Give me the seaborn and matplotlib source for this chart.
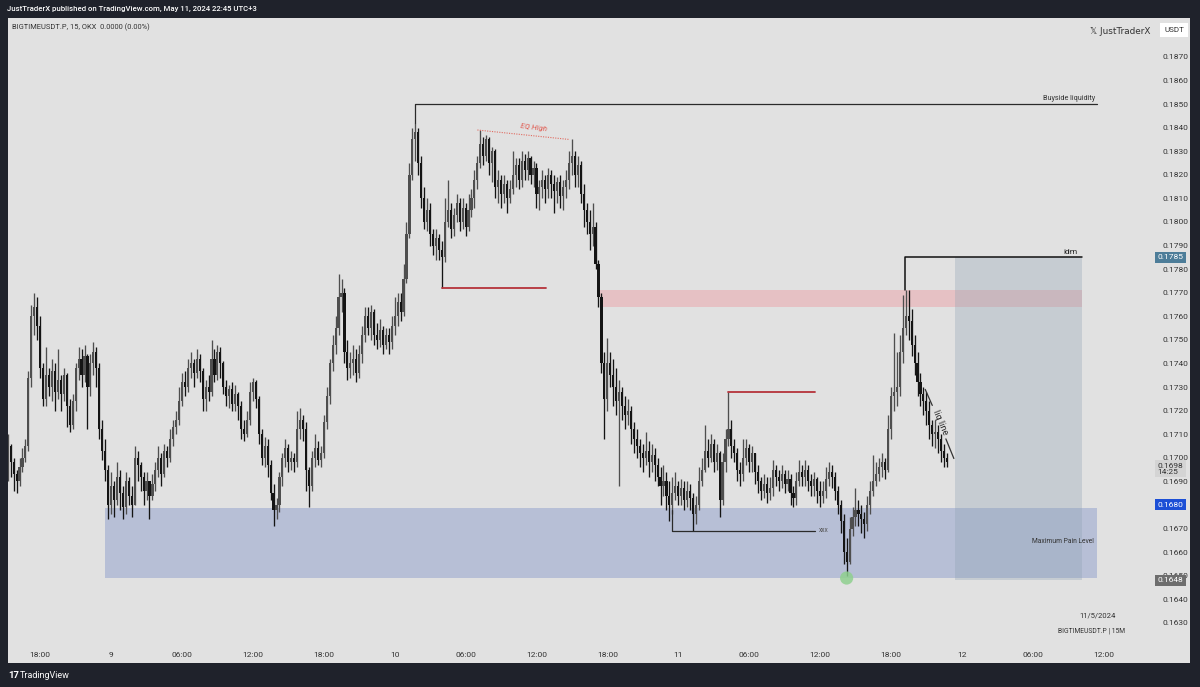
import numpy as np
import pandas as pd
import matplotlib
matplotlib.use("Agg")
import matplotlib.pyplot as plt
import seaborn as sns
from matplotlib.patches import Rectangle

# ---------------- data (prices in units of 0.0001) ----------------
first_open = 1700
start_time = "2024-05-08 15:15"

close_d8 = [1705, 1698, 1693, 1690, 1696, 1700, 1705, 1734, 1760, 1764, 1756, 1738, 1725, 1735, 1730, 1737,
            1728, 1733, 1727, 1735, 1722, 1714, 1724, 1738, 1742, 1735, 1743, 1730, 1740, 1745, 1738, 1712,
            1703, 1695, 1680]
high_d8 = [1710, 1706, 1700, 1695, 1700, 1704, 1708, 1737, 1765, 1770, 1768, 1760, 1740, 1747, 1738, 1742,
           1740, 1746, 1735, 1738, 1736, 1725, 1727, 1740, 1747, 1746, 1748, 1744, 1744, 1749, 1747, 1740,
           1716, 1708, 1697]
low_d8 = [1690, 1692, 1686, 1685, 1688, 1694, 1698, 1703, 1730, 1752, 1750, 1734, 1722, 1722, 1726, 1724,
          1720, 1725, 1720, 1724, 1713, 1711, 1712, 1720, 1733, 1730, 1732, 1712, 1726, 1735, 1730, 1708,
          1699, 1690, 1674]

close_d9 = [1688, 1682, 1692, 1685, 1679, 1690, 1684, 1680, 1700, 1697, 1692, 1686, 1690, 1684, 1689, 1695,
            1700, 1693, 1703, 1700, 1708, 1713, 1716, 1724, 1732, 1730, 1738, 1740, 1736, 1742, 1737, 1725,
            1730, 1728, 1742, 1735, 1745, 1740, 1730, 1726, 1729, 1723, 1727, 1722, 1712, 1710, 1716, 1728,
            1732, 1725, 1710, 1700, 1705, 1697, 1685, 1678, 1680, 1692, 1700, 1704, 1698, 1700, 1698, 1712,
            1716, 1712, 1695, 1688, 1700, 1704, 1699, 1702, 1715, 1726, 1740, 1748, 1755, 1768, 1770, 1745,
            1738, 1740, 1742, 1736, 1744, 1752, 1760, 1755, 1762, 1752, 1750, 1754, 1748, 1752, 1749, 1756]
high_d9 = [1694, 1690, 1698, 1695, 1688, 1694, 1692, 1688, 1705, 1703, 1698, 1694, 1694, 1690, 1693, 1698,
           1705, 1702, 1706, 1705, 1712, 1716, 1720, 1730, 1736, 1737, 1742, 1745, 1742, 1746, 1744, 1738,
           1733, 1735, 1750, 1746, 1748, 1747, 1741, 1733, 1731, 1732, 1731, 1728, 1724, 1716, 1720, 1732,
           1734, 1733, 1726, 1712, 1709, 1708, 1699, 1689, 1683, 1694, 1702, 1708, 1706, 1703, 1702, 1720,
           1721, 1718, 1715, 1696, 1703, 1710, 1707, 1705, 1718, 1730, 1742, 1752, 1760, 1778, 1776, 1772,
           1750, 1745, 1748, 1746, 1748, 1756, 1764, 1764, 1765, 1763, 1757, 1759, 1756, 1755, 1755, 1760]
low_d9 = [1676, 1675, 1680, 1678, 1674, 1676, 1680, 1675, 1680, 1690, 1686, 1680, 1682, 1674, 1682, 1686,
          1692, 1688, 1692, 1696, 1698, 1705, 1710, 1714, 1722, 1726, 1728, 1734, 1730, 1734, 1732, 1720,
          1720, 1724, 1726, 1732, 1733, 1734, 1727, 1722, 1721, 1720, 1720, 1716, 1708, 1707, 1709, 1714,
          1724, 1721, 1706, 1697, 1696, 1692, 1682, 1671, 1674, 1677, 1688, 1696, 1694, 1695, 1694, 1696,
          1708, 1707, 1686, 1679, 1686, 1696, 1697, 1696, 1700, 1712, 1723, 1737, 1744, 1752, 1762, 1740,
          1733, 1734, 1735, 1732, 1734, 1740, 1749, 1752, 1750, 1748, 1746, 1747, 1744, 1746, 1744, 1746]

close_d10 = [1760, 1766, 1762, 1776, 1795, 1820, 1835, 1838, 1825, 1810, 1800, 1805, 1795, 1790, 1793, 1788,
             1785, 1800, 1805, 1797, 1803, 1808, 1800, 1806, 1798, 1805, 1810, 1818, 1825, 1833, 1828, 1835,
             1825, 1830, 1815, 1818, 1812, 1816, 1810, 1814, 1820, 1824, 1818, 1826, 1822, 1827, 1820, 1823,
             1812, 1815, 1818, 1814, 1820, 1816, 1813, 1817, 1811, 1815, 1818, 1825, 1828, 1820, 1824, 1812,
             1805, 1800, 1795, 1798, 1782, 1768, 1740, 1725, 1740, 1735, 1730, 1724, 1728, 1722, 1718, 1720,
             1712, 1708, 1705, 1702, 1700, 1703, 1698, 1701, 1697, 1692, 1688, 1690, 1684, 1680, 1685, 1688]
high_d10 = [1768, 1770, 1770, 1782, 1800, 1825, 1840, 1842, 1840, 1828, 1815, 1810, 1808, 1797, 1797, 1795,
            1792, 1810, 1818, 1808, 1806, 1812, 1810, 1810, 1808, 1812, 1814, 1822, 1828, 1839, 1836, 1837,
            1836, 1832, 1831, 1822, 1820, 1820, 1818, 1818, 1830, 1827, 1827, 1830, 1829, 1830, 1828, 1826,
            1825, 1818, 1822, 1820, 1823, 1822, 1820, 1819, 1820, 1818, 1822, 1830, 1835, 1830, 1828, 1826,
            1816, 1808, 1805, 1808, 1800, 1784, 1770, 1745, 1751, 1745, 1742, 1738, 1733, 1730, 1726, 1725,
            1722, 1715, 1712, 1708, 1706, 1711, 1707, 1706, 1704, 1700, 1696, 1697, 1694, 1690, 1692, 1694]
low_d10 = [1752, 1756, 1758, 1760, 1774, 1793, 1818, 1826, 1820, 1806, 1797, 1796, 1790, 1786, 1784, 1784,
           1772, 1783, 1798, 1793, 1794, 1800, 1796, 1797, 1794, 1796, 1802, 1806, 1814, 1823, 1824, 1826,
           1820, 1817, 1810, 1808, 1806, 1808, 1804, 1808, 1812, 1815, 1814, 1815, 1818, 1818, 1816, 1815,
           1806, 1805, 1810, 1808, 1810, 1810, 1804, 1808, 1806, 1805, 1810, 1814, 1820, 1815, 1815, 1808,
           1798, 1795, 1788, 1790, 1780, 1764, 1736, 1708, 1720, 1730, 1722, 1718, 1688, 1716, 1712, 1714,
           1706, 1702, 1700, 1696, 1694, 1697, 1692, 1694, 1690, 1688, 1680, 1684, 1678, 1673, 1676, 1682]

close_d11 = [1684, 1687, 1682, 1686, 1683, 1676, 1680, 1690, 1695, 1703, 1700, 1706, 1698, 1702, 1682, 1698,
             1708, 1712, 1705, 1702, 1695, 1693, 1700, 1704, 1698, 1702, 1694, 1690, 1686, 1689, 1685, 1687,
             1695, 1692, 1690, 1693, 1689, 1691, 1685, 1683, 1690, 1694, 1692, 1695, 1690, 1688, 1691, 1686,
             1684, 1686, 1691, 1694, 1692, 1686, 1680, 1673, 1660, 1656, 1670, 1675, 1678, 1676, 1674, 1672,
             1680, 1686, 1690, 1693, 1696, 1698, 1695, 1712, 1726, 1728, 1730, 1745, 1755, 1760, 1758, 1748,
             1740, 1732, 1727, 1724, 1720, 1714, 1710, 1711, 1708, 1703, 1700, 1698]
high_d11 = [1690, 1691, 1690, 1690, 1689, 1685, 1684, 1696, 1700, 1714, 1708, 1710, 1708, 1706, 1703, 1702,
            1712, 1728, 1716, 1708, 1704, 1698, 1708, 1708, 1706, 1705, 1702, 1697, 1692, 1693, 1692, 1692,
            1699, 1697, 1695, 1697, 1695, 1695, 1693, 1688, 1694, 1699, 1697, 1699, 1697, 1693, 1694, 1692,
            1690, 1690, 1696, 1698, 1697, 1694, 1688, 1682, 1676, 1666, 1675, 1679, 1687, 1682, 1680, 1677,
            1684, 1690, 1701, 1698, 1700, 1702, 1700, 1718, 1730, 1753, 1745, 1752, 1769, 1771, 1771, 1763,
            1752, 1745, 1736, 1730, 1728, 1724, 1716, 1716, 1714, 1710, 1706, 1702]
low_d11 = [1680, 1680, 1678, 1679, 1678, 1669, 1672, 1678, 1688, 1694, 1696, 1698, 1694, 1695, 1675, 1680,
           1694, 1705, 1700, 1698, 1690, 1688, 1690, 1697, 1694, 1694, 1689, 1685, 1682, 1683, 1681, 1682,
           1684, 1688, 1686, 1687, 1685, 1686, 1680, 1679, 1680, 1688, 1688, 1688, 1686, 1684, 1684, 1681,
           1679, 1681, 1683, 1688, 1687, 1682, 1676, 1668, 1655, 1650, 1655, 1667, 1671, 1671, 1668, 1666,
           1669, 1676, 1684, 1688, 1690, 1692, 1691, 1694, 1708, 1720, 1722, 1726, 1740, 1752, 1750, 1743,
           1735, 1726, 1722, 1718, 1714, 1708, 1705, 1704, 1702, 1698, 1696, 1696]

# annotation levels (prices)
buyside_level = 0.1850
eq_high = [(0.1839, "2024-05-10 07:00"), (0.1835, "2024-05-10 14:45")]
red_level_1 = 0.1772
red_level_2 = 0.1728
xxx_level = 0.1669
idm_level = 0.1785
red_zone = (0.17640, 0.17712)
blue_zone = (0.16490, 0.16785)
position_box = (0.1648, 0.1785)
pain_low = 0.1649
last_price = 0.1698

x_tick_times = ["2024-05-08 18:00", "2024-05-09 00:00", "2024-05-09 06:00", "2024-05-09 12:00",
                "2024-05-09 18:00", "2024-05-10 00:00", "2024-05-10 06:00", "2024-05-10 12:00",
                "2024-05-10 18:00", "2024-05-11 00:00", "2024-05-11 06:00", "2024-05-11 12:00",
                "2024-05-11 18:00", "2024-05-12 00:00", "2024-05-12 06:00", "2024-05-12 12:00"]
x_tick_labels = ["18:00", "9", "06:00", "12:00", "18:00", "10", "06:00", "12:00", "18:00", "11",
                 "06:00", "12:00", "18:00", "12", "06:00", "12:00"]
y_ticks = [0.1630 + 0.0010 * k for k in range(25)]

# ---------------- build frame ----------------
c = np.array(close_d8 + close_d9 + close_d10 + close_d11, dtype=float) / 1e4
h = np.array(high_d8 + high_d9 + high_d10 + high_d11, dtype=float) / 1e4
l = np.array(low_d8 + low_d9 + low_d10 + low_d11, dtype=float) / 1e4
o = np.r_[first_open / 1e4, c[:-1]]
h = np.maximum(h, np.maximum(o, c))
l = np.minimum(l, np.minimum(o, c))
t0 = pd.Timestamp(start_time)
df = pd.DataFrame({"time": pd.date_range(t0, periods=len(c), freq="15min"),
                   "open": o, "high": h, "low": l, "close": c})
step = pd.Timedelta("15min")
def xpos(ts):
    return (pd.Timestamp(ts) - t0) / step
df["x"] = (df["time"] - t0) / step

# ---------------- style ----------------
sns.set_theme(style="white")
plt.rcParams["font.family"] = ["Roboto", "DejaVu Sans"]

W, H = 1200, 687
fig = plt.figure(figsize=(12, 6.87), dpi=100)
frame = "#1f222b"
fig.patch.set_facecolor(frame)
fig.add_artist(Rectangle((8 / W, 1 - 663 / H), 1182 / W, 645 / H, transform=fig.transFigure,
                         facecolor="#e1e1e1", edgecolor="none", zorder=-5))
ax = fig.add_axes([8 / W, 1 - 645 / H, 1142 / W, 627 / H])
ax.set_facecolor("#e1e1e1")
for s in ax.spines.values():
    s.set_visible(False)

# zones
xl, xr = 0.1, 386.7
ax.set_xlim(xl, xr)
ax.set_ylim(0.16206, 0.18865)
ax.axhspan(*blue_zone, xmin=(33 - xl) / (xr - xl), xmax=(368.8 - xl) / (xr - xl),
           color="#b7bfd6", zorder=1, lw=0)
ax.axhspan(*red_zone, xmin=(200.5 - xl) / (xr - xl), xmax=(363.7 - xl) / (xr - xl),
           color="#e6c1c4", zorder=1, lw=0)

# candles
up = df["close"] >= df["open"]
cols = np.where(up, "#4e4e4e", "#141414")
ax.vlines(df["x"], df["low"], df["high"], colors=cols, lw=0.95, zorder=3)
body = np.maximum((df["close"] - df["open"]).abs(), 0.00006)
ax.bar(df["x"], body, bottom=np.minimum(df["open"], df["close"]), width=0.72,
       color=cols, linewidth=0, zorder=4)

# position box (overlay)
ax.axhspan(*position_box, xmin=(320.7 - xl) / (xr - xl), xmax=(363.7 - xl) / (xr - xl),
           color="#8fa3b4", alpha=0.33, zorder=5, lw=0)

# green low marker
sns.scatterplot(x=[df["x"][df["low"].idxmin()]], y=[pain_low], s=90, color="#8fd08f",
                alpha=0.85, edgecolor="none", ax=ax, zorder=6, legend=False)

# lines
i_top = df["x"][df["high"].idxmax()]
ax.plot([i_top, i_top, 368.8], [df["high"].max(), buyside_level, buyside_level], color="#2a2a2a", lw=0.9, zorder=6)
ax.text(368.2, buyside_level + 0.00008, "Buyside liquidity", ha="right", va="bottom", fontsize=5.2, color="#333333", zorder=7)

ex = [xpos(eq_high[0][1]), xpos(eq_high[1][1])]
ax.plot(ex, [eq_high[0][0], eq_high[1][0]], color="#e06a60", lw=0.8, ls=(0, (1, 1.2)), zorder=6)
ax.text(178, 0.18398, "EQ High", ha="center", va="center", fontsize=5.6, color="#e05a50",
        rotation=-7, style="italic", zorder=7)

ax.plot([147, 182.3], [red_level_1, red_level_1], color="#b5323a", lw=1.3, zorder=6)
ax.plot([244, 273.3], [red_level_2, red_level_2], color="#b5323a", lw=1.3, zorder=6)

ax.plot([224.9, 224.9, 273.3], [0.1678, xxx_level, xxx_level], color="#2a2a2a", lw=0.9, zorder=6)
ax.text(274.6, xxx_level, "xxx", ha="left", va="center", fontsize=4.8, color="#555555", zorder=7)

ax.plot([303.8, 303.8, 363.7], [0.1771, idm_level, idm_level], color="#111111", lw=1.1, zorder=6)
ax.text(359.7, idm_level + 0.00009, "idm", ha="center", va="bottom", fontsize=6, color="#222222", zorder=7)

ax.plot([310.6, 313.0], [0.17290, 0.17222], color="#333333", lw=0.9, zorder=6)
ax.plot([317.6, 320.3], [0.17080, 0.16997], color="#333333", lw=0.9, zorder=6)
ax.text(315.6, 0.17150, "liq line", ha="center", va="center", fontsize=6.6, color="#2a2a2a",
        rotation=-67, rotation_mode="anchor", zorder=7)

ax.text(367.8, 0.16643, "Maximum Pain Level", ha="right", va="center", fontsize=4.9, color="#333333", zorder=7)

# axes ticks (0.1680 is covered by its own price tag)
ax.yaxis.tick_right()
ax.set_yticks(y_ticks)
ax.set_yticklabels(["" if abs(v - 0.1680) < 1e-6 else f"{v:.4f}" for v in y_ticks])
ax.tick_params(axis="y", length=0, pad=9, labelsize=6.0, labelcolor="#333333")
ax.set_xticks([xpos(t) for t in x_tick_times])
ax.set_xticklabels(x_tick_labels)
ax.tick_params(axis="x", length=0, pad=5, labelsize=6.0, labelcolor="#333333")
ax.grid(False)

# price labels on the scale
ylab = dict(xycoords=("axes fraction", "data"), ha="left", va="center", fontsize=6.0, zorder=10,
            annotation_clip=False)
def price_tag(y, text, fc, tc, h_pad=0.3):
    ax.annotate(text, xy=(1.0065, y), color=tc,
                bbox=dict(boxstyle=f"square,pad={h_pad}", fc=fc, ec="none"), **ylab)
price_tag(idm_level, "0.1785", "#4d7d99", "white")
price_tag(0.1680, "0.1680", "#1c4fd6", "white")
price_tag(0.1648, "0.1648", "#6d6d6d", "white")
ax.annotate(f"{last_price:.4f}\n14:25", xy=(1.0065, last_price - 0.00026), color="#333333",
            bbox=dict(boxstyle="square,pad=0.3", fc="#d4d4d4", ec="none"), linespacing=1.0, **ylab)

# frame texts
fig.text(7 / W, 1 - 9 / H, "JustTraderX published on TradingView.com, May 11, 2024 22:45 UTC+3",
         ha="left", va="center", fontsize=5.6, color="white", fontweight="medium")
fig.text(12 / W, 1 - 27 / H, "BIGTIMEUSDT.P, 15, OKX  0.0000 (0.00%)", ha="left", va="center",
         fontsize=5.4, color="#333333")
fig.text(1150 / W, 1 - 31 / H, "𝕏 JustTraderX", ha="right", va="center", fontsize=6.4, color="#333333",
         family=["DejaVu Sans"])
fig.text(1174 / W, 1 - 30 / H, "USDT", ha="center", va="center", fontsize=5.8, color="#333333",
         bbox=dict(boxstyle="square,pad=0.55", fc="white", ec="none"))
fig.text(1098 / W, 1 - 615 / H, "11/5/2024", ha="center", va="center", fontsize=5.5, color="#333333")
fig.text(1091 / W, 1 - 631 / H, "BIGTIMEUSDT.P | 15M", ha="center", va="center", fontsize=4.9, color="#333333")
fig.text(8 / W, 1 - 676 / H, "17", ha="left", va="center", fontsize=6.8, color="white",
         fontweight="bold")
fig.text(20 / W, 1 - 676 / H, "TradingView", ha="left", va="center", fontsize=6.5, color="white")

fig.savefig("out.png", dpi=100, facecolor=fig.get_facecolor())
